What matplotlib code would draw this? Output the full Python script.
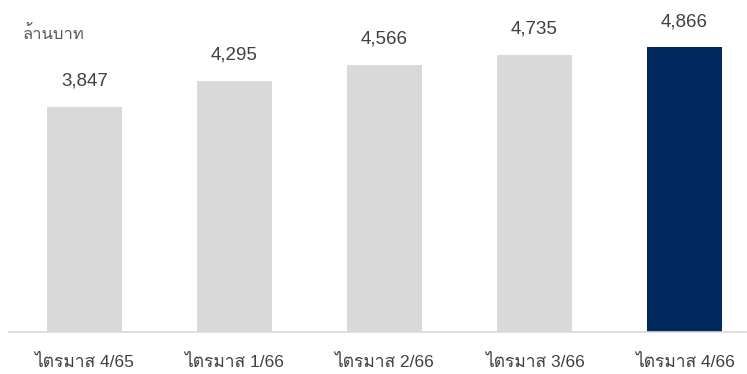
import matplotlib
matplotlib.use("Agg")
import matplotlib.pyplot as plt

quarters = ["ไตรมาส 4/65", "ไตรมาส 1/66", "ไตรมาส 2/66", "ไตรมาส 3/66", "ไตรมาส 4/66"]
values = [3847, 4295, 4566, 4735, 4866]
bar_colors = ["#d9d9d9", "#d9d9d9", "#d9d9d9", "#d9d9d9", "#002a5e"]
unit = "ล้านบาท"

plt.rcParams["font.family"] = ["Liberation Sans", "Loma", "Noto Sans Thai Looped", "DejaVu Sans"]

fig = plt.figure(figsize=(7.47, 3.74), dpi=100)
ax = fig.add_axes([9 / 747, 42 / 374, 737 / 747, 332 / 374])

x = range(len(quarters))
bars = ax.bar(x, values, width=0.5, color=bar_colors)

for b, v in zip(bars, values):
    ax.annotate(f"{v:,}", (b.get_x() + b.get_width() / 2, v),
                xytext=(0, 18.5), textcoords="offset points",
                ha="center", va="center", fontsize=13.5, color="#404040")

ax.set_xlim(-0.503, 4.41)
ax.set_ylim(0, 5676)
ax.set_xticks(list(x))
ax.set_xticklabels(quarters, fontsize=12.5, color="#404040")
ax.tick_params(axis="x", length=0, pad=15.5)
ax.set_yticks([])
for s in ["top", "left", "right"]:
    ax.spines[s].set_visible(False)
ax.spines["bottom"].set_color("#d9d9d9")
ax.spines["bottom"].set_linewidth(1.2)

fig.text(23 / 747, 1 - 34 / 374, unit, ha="left", va="center", fontsize=12, color="#595959")

fig.savefig("out.png", dpi=100)
